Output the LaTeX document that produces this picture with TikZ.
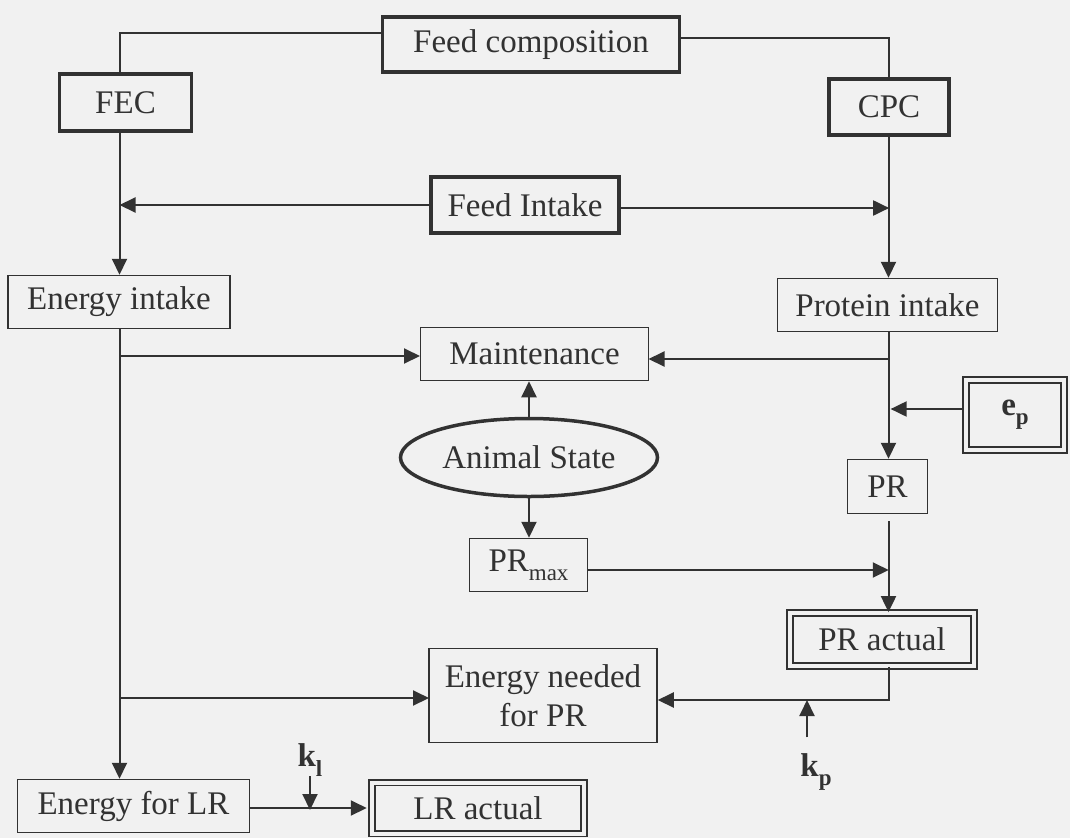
\documentclass[tikz,border=0pt]{standalone}
\usepackage{fontspec}
\setmainfont{Liberation Serif}
\usetikzlibrary{arrows.meta,shapes.geometric,calc}
\definecolor{bg}{RGB}{241,241,241}
\definecolor{ink}{RGB}{50,50,50}
\newcommand{\subtxt}[1]{\raisebox{-0.28em}{\fontsize{23}{23}\selectfont #1}}
\begin{document}
\begin{tikzpicture}[x=1pt,y=-1pt,
  font=\fontsize{33}{39}\selectfont,
  every node/.style={text=ink},
  box/.style={draw=ink, line width=1.5pt, inner sep=0pt},
  tbox/.style={draw=ink, line width=3.3pt, inner sep=0pt},
  dbox/.style={draw=ink, double=bg, double distance=4pt, line width=1.8pt, inner sep=0pt},
  conn/.style={draw=ink, line width=2pt},
  arr/.style={draw=ink, line width=2pt, -{Triangle[length=16pt,width=15pt]}}]
\fill[bg] (0,0) rectangle (1070,838);
\useasboundingbox (0,0) rectangle (1070,838);

% trunks
\coordinate (tL) at (119.5,0);
\coordinate (tR) at (888.5,0);

% nodes
\node[tbox, minimum width=297pt, minimum height=55pt] (feedcomp) at (531,44.5) {Feed composition};
\node[tbox, minimum width=132pt, minimum height=57pt] (FEC) at (125.5,102.5) {FEC};
\node[tbox, minimum width=120pt, minimum height=56pt] (CPC) at (889,107) {CPC};
\node[tbox, minimum width=188pt, minimum height=56pt] (feedintake) at (525,205) {Feed Intake};
\node[box, minimum width=222pt, minimum height=53pt] (energyintake) at (119,302) {Energy intake};
\node[box, minimum width=220pt, minimum height=53pt] (proteinintake) at (887.5,305) {Protein intake};
\node[box, minimum width=228pt, minimum height=53pt] (maintenance) at (534.5,354) {Maintenance};
\node[dbox, minimum width=98pt, minimum height=70pt] (ep) at (1015,415) {\bfseries e\subtxt{\bfseries p}};
\node[box, minimum width=80pt, minimum height=54pt] (PR) at (887.5,486.5) {PR};
\node[ellipse, draw=ink, line width=3.5pt, minimum width=257pt, minimum height=78pt, inner sep=0pt] (animal) at (529,457.5) {Animal State};
\node[box, minimum width=118pt, minimum height=53pt] (PRmax) at (528.5,565) {PR\subtxt{max}};
\node[dbox, minimum width=184pt, minimum height=53pt] (PRactual) at (882,639.5) {PR actual};
\node[box, minimum width=228pt, minimum height=94pt, align=center] (energyneeded) at (543,695.5) {Energy needed\\for PR};
\node[box, minimum width=232pt, minimum height=53pt] (energyLR) at (133.5,806) {Energy for LR};
\node[dbox, minimum width=212pt, minimum height=51pt] (LRactual) at (478,808) {LR actual};
\node[inner sep=0pt] (kl) at (310,760) {\bfseries k\subtxt{\bfseries l}};
\node[inner sep=0pt] (kp) at (816,772) {\bfseries k\subtxt{\bfseries p}};

% connectors
\draw[conn] (feedcomp.west) ++(0,-11.5) -| (FEC.north -| tL);
\draw[conn] (feedcomp.east) ++(0,-7) -| (CPC.north -| tR);
\draw[arr] (FEC.south -| tL) -- (energyintake.north -| tL);
\draw[arr] (feedintake.west) -- (feedintake.west -| tL);
\draw[arr] (feedintake.east) ++(0,3) -- ++(268.5,0);
\draw[arr] (CPC.south -| tR) -- (proteinintake.north -| tR);
\draw[arr] (energyintake.south -| tL) -- (energyLR.north -| tL);
\draw[arr] (maintenance.west -| tL) ++(0,2) -- ++(300.5,0);
\draw[arr] (proteinintake.south -| tR) -- (PR.north -| tR);
\draw[arr] (maintenance.east -| tR) ++(0,5) -- ++(-240,0);
\draw[arr] (ep.west) ++(-3.5,-6) -- ++(-71,0);
\draw[arr] (animal.north) -- (maintenance.south -| animal.north);
\draw[arr] (animal.south) -- (PRmax.north -| animal.south);
\draw[arr] (PR.south -| tR) ++(0,7) -- (PRactual.north -| tR);
\draw[arr] (PRmax.east) ++(0,5) -- ++(300.5,0);
\coordinate (jp) at (888.5,700);
\draw[arr] (PRactual.south -| tR) -- (jp) -- (jp -| energyneeded.east);
\draw[arr] (energyneeded.west -| tL) ++(0,2.5) -- ++(309.5,0);
\draw[arr] (energyLR.east) ++(0,2) -- ++(116.5,0);
\draw[arr] (kl.south -| 310,0) -- (310,810);
\coordinate (kpx) at (807,0);
\draw[arr] (kpx |- kp.north) ++(0,-16) -- (kpx |- jp);
\end{tikzpicture}
\end{document}
